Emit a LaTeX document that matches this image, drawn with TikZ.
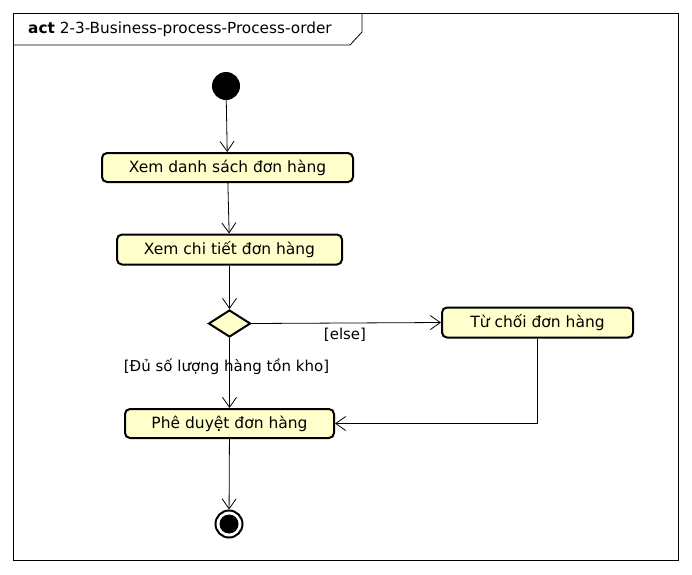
\documentclass[tikz,border=0pt]{standalone}
\usepackage{fontspec}
\setmainfont{DejaVu Sans}
\usetikzlibrary{arrows.meta,shapes.geometric}
\definecolor{actfill}{RGB}{255,255,204}
\tikzset{
  actbox/.style={draw, line width=2pt, rounded corners=5pt, fill=actfill, inner sep=0pt, font=\fontsize{15.5}{17}\selectfont},
  flow/.style={draw, line width=0.8pt, -{Straight Barb[length=10pt,width=14pt,line width=0.8pt]}},
  guard/.style={font=\fontsize{15}{17}\selectfont, inner sep=0pt},
}
\begin{document}
\begin{tikzpicture}[x=1pt,y=-1pt]
\useasboundingbox (0,0) rectangle (692,574);
\fill[white] (0,0) rectangle (692,574);
% frame
\draw[line width=0.8pt] (13,13) rectangle (678,560);
\draw[line width=0.8pt] (13,45) -- (350,45) -- (362,32) -- (362,13);
\node[anchor=west, inner sep=0pt, font=\fontsize{15.3}{18}\selectfont] (title) at (28,29) {\textbf{act} 2-3-Business-process-Process-order};
% nodes
\node[circle, fill=black, minimum size=28pt, inner sep=0pt] (start) at (226,86) {};
\node[actbox, minimum width=251pt, minimum height=29pt] (b1) at (227.5,167.5) {Xem danh sách đơn hàng};
\node[actbox, minimum width=225pt, minimum height=30pt] (b2) at (229.5,249.5) {Xem chi tiết đơn hàng};
\node[diamond, draw, line width=2pt, fill=actfill, minimum width=42pt, minimum height=27pt, inner sep=0pt] (d) at (229.5,323.5) {};
\node[actbox, minimum width=191pt, minimum height=30pt] (b3) at (537.5,322.5) {Từ chối đơn hàng};
\node[actbox, minimum width=209pt, minimum height=29pt] (b4) at (229.5,423.5) {Phê duyệt đơn hàng};
\node[circle, draw, line width=2pt, minimum size=27pt, inner sep=0pt,
  path picture={\fill[black] (path picture bounding box.center) circle (9.5pt);}] (end) at (229,524) {};
% edges
\draw[flow] (start) -- (b1);
\draw[flow] (b1) -- (b2);
\draw[flow] (b2) -- (d);
\draw[flow] (d.east) -- (b3.west);
\node[guard] (lelse) at (345,335) {[else]};
\draw[flow] (d) -- (b4);
\node[guard] (lok) at (226.5,367) {[Đủ số lượng hàng tồn kho]};
\draw[flow] (b3.south) |- (b4.east);
\draw[flow] (b4) -- (end);
\end{tikzpicture}
\end{document}
